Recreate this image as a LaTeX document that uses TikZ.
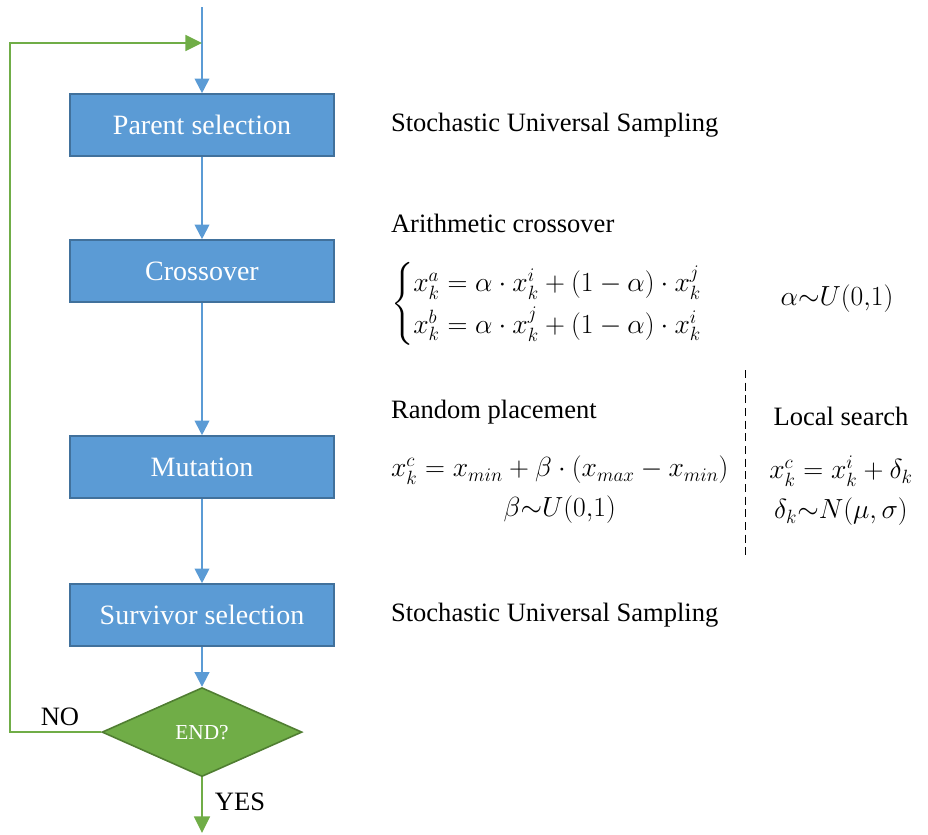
\documentclass[tikz,border=0pt]{standalone}
\usepackage{amsmath}
\usepackage{fontspec}
\setmainfont{Liberation Serif}
\usepackage{tikz}
\usetikzlibrary{positioning,arrows.meta,shapes.geometric}
\definecolor{gablue}{HTML}{5B9BD5}
\definecolor{gaedge}{HTML}{41719C}
\definecolor{gagreen}{HTML}{70AD47}
\definecolor{gagreenedge}{HTML}{507E32}

\begin{document}
\begin{tikzpicture}[x=0.75pt, y=-0.75pt, font=\fontsize{19.9}{26}\selectfont,
  box/.style={draw=gaedge, line width=1.2pt, fill=gablue, text=white, minimum width=198pt, minimum height=46.5pt, inner sep=0pt, font=\fontsize{21}{25}\selectfont},
  dec/.style={diamond, aspect=2.25, draw=gagreenedge, line width=1.2pt, fill=gagreen, text=white, minimum width=150pt, minimum height=66.75pt, inner sep=0pt, font=\fontsize{16}{19}\selectfont},
  lbl/.style={inner sep=0pt, anchor=west}, frm/.style={inner sep=0pt, align=center, font=\fontsize{19.9}{30}\selectfont},
  arr/.style={-{Triangle[length=11pt, width=11pt]}, draw=gablue, line width=1.5pt},
  garr/.style={-{Triangle[length=12.5pt, width=12pt]}, draw=gagreen, line width=1.3pt}]
\useasboundingbox (0,0) rectangle (928,835);
% flow chart
\node[box] (par) at (202,125) {Parent selection};
\node[box, below=61.8pt of par] (cro) {Crossover};
\node[box, below=99.3pt of cro] (mut) {Mutation};
\node[box, below=63.3pt of mut] (sur) {Survivor selection};
\node[dec, below=30pt of sur] (end) {END?};
\coordinate (start) at (202,7); \coordinate (stop) at (202,833);
\coordinate (looptl) at (10,43); \coordinate (loopin) at (202,43);
\draw[arr] (start)--(par); \draw[arr] (par)--(cro); \draw[arr] (cro)--(mut); \draw[arr] (mut)--(sur); \draw[arr] (sur)--(end);
\draw[garr] (end.south)--(stop);
\draw[garr] (end.west) -| (looptl)--(loopin);
\node (no) at (60,717) {NO};
\node (yes) at (240,802) {YES};
% operators
\node[lbl, right=42pt of par] (sus1) {Stochastic Universal Sampling};
\node[lbl, right=42pt of cro, yshift=36pt] (arith) {Arithmetic crossover};
\node[lbl, right=42pt of cro, yshift=-24.75pt, font=\fontsize{19.9}{26}\selectfont] (cases)
  {$\begin{cases} x_k^a = \alpha\cdot x_k^i + (1-\alpha)\cdot x_k^j\\ x_k^b = \alpha\cdot x_k^j + (1-\alpha)\cdot x_k^i \end{cases}$};
\node[inner sep=0pt] (alpha) at (837,299) {$\alpha\mathord{\sim}U(0{,}1)$};
\node[lbl, right=42pt of mut, yshift=41.25pt] (rand) {Random placement};
\node[frm, anchor=west, right=42pt of mut, yshift=-17.25pt] (randf)
  {$x_k^c = x_{min} + \beta\cdot(x_{max}-x_{min})$\\$\beta\mathord{\sim}U(0{,}1)$};
\coordinate (dtop) at (745,370); \coordinate (dbot) at (745,560);
\draw[dashed, line width=0.7pt, dash pattern=on 6pt off 3.5pt] (dtop)--(dbot);
\node[inner sep=0pt] (loc) at (841,416) {Local search};
\node[frm] (locf) at (841,491) {$x_k^c = x_k^i + \delta_k$\\$\delta_k\mathord{\sim}N(\mu,\sigma)$};
\node[lbl, right=42pt of sur] (sus2) {Stochastic Universal Sampling};
\end{tikzpicture}
\end{document}
